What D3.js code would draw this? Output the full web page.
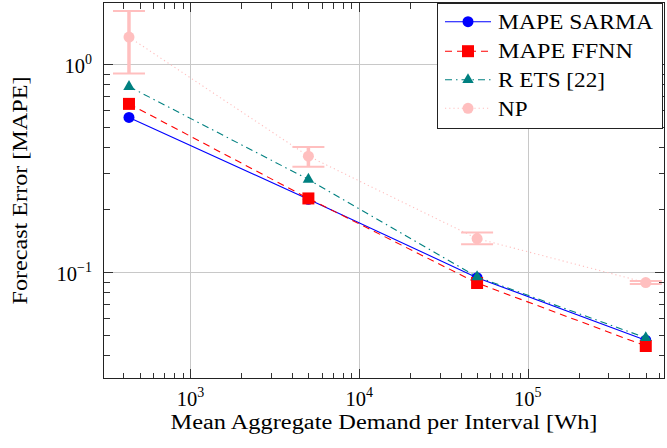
<!DOCTYPE html>
<html><head><meta charset="utf-8">
<script src="https://cdn.jsdelivr.net/npm/d3@7"></script>
<style>
body{margin:0;background:#fff}
svg{display:block}
text{font-family:"Liberation Serif","Times New Roman",serif;fill:#000}
</style>
</head><body>
<svg id="chart" width="667" height="448"></svg>
<script>
// ---- data ----
const demand   = [432, 5000, 50000, 500000];
const sarma    = [0.554, 0.224, 0.094, 0.047];
const ffnn     = [0.644, 0.226, 0.0886, 0.0441];
const ets      = [0.78, 0.279, 0.0948, 0.0483];
const npMean   = [1.35, 0.361, 0.145, 0.089];
const npLow    = [0.902, 0.321, 0.136, 0.0876];
const npHigh   = [1.80, 0.400, 0.155, 0.0905];
const seriesNames = ["MAPE SARMA", "MAPE FFNN", "R ETS [22]", "NP"];
const xTicks   = [1e3, 1e4, 1e5];
const xTickExp = ["3", "4", "5"];
const yTicks   = [1, 0.1];
const yTickExp = ["0", "\u22121"];
const xDomain  = [303, 650000];
const yDomain  = [0.0306, 1.99];
const xLabel = "Mean Aggregate Demand per Interval [Wh]";
const yLabel = "Forecast Error [MAPE]";

// ---- layout ----
const L = 103, R = 665, T = 2, B = 379;
const svg = d3.select("#chart");
const x = d3.scaleLog().domain(xDomain).range([L, R]);
const y = d3.scaleLog().domain(yDomain).range([B, T]);

function minorTicks(domain) {
  const out = [];
  const lo = Math.floor(Math.log10(domain[0])), hi = Math.ceil(Math.log10(domain[1]));
  for (let e = lo; e <= hi; e++) for (let m = 2; m <= 9; m++) {
    const v = m * Math.pow(10, e);
    if (v > domain[0] && v < domain[1]) out.push(v);
  }
  return out;
}
const xMinor = minorTicks(xDomain), yMinor = minorTicks(yDomain);

// grid
const g = svg.append("g").attr("shape-rendering", "crispEdges");
g.selectAll(".gx").data(xTicks).join("line")
  .attr("x1", d => Math.round(x(d)) + 0.5).attr("x2", d => Math.round(x(d)) + 0.5)
  .attr("y1", T).attr("y2", B).attr("stroke", "#c8c8c8").attr("stroke-width", 1);
g.selectAll(".gy").data(yTicks).join("line")
  .attr("y1", d => Math.round(y(d)) + 0.5).attr("y2", d => Math.round(y(d)) + 0.5)
  .attr("x1", L).attr("x2", R).attr("stroke", "#c8c8c8").attr("stroke-width", 1);

// ticks (inside, all four sides)
const tk = svg.append("g").attr("stroke", "#333").attr("stroke-width", 1).attr("shape-rendering", "crispEdges");
const xt = xTicks.map(v => ({v, len: 10})).concat(xMinor.map(v => ({v, len: 6.5})));
const yt = yTicks.map(v => ({v, len: 10})).concat(yMinor.map(v => ({v, len: 6.5})));
xt.forEach(d => {
  const px = Math.round(x(d.v)) + 0.5;
  tk.append("line").attr("x1", px).attr("x2", px).attr("y1", B).attr("y2", B - d.len);
  tk.append("line").attr("x1", px).attr("x2", px).attr("y1", T).attr("y2", T + d.len);
});
yt.forEach(d => {
  const py = Math.round(y(d.v)) + 0.5;
  tk.append("line").attr("y1", py).attr("y2", py).attr("x1", L).attr("x2", L + d.len);
  tk.append("line").attr("y1", py).attr("y2", py).attr("x1", R).attr("x2", R - d.len);
});

// series
const line = d3.line().x(d => x(d[0])).y(d => y(d[1]));
function pts(vals) { return demand.map((d, i) => [d, vals[i]]); }

const series = [
  {vals: sarma, color: "#0000ff", dash: null, mark: "circle"},
  {vals: ffnn, color: "#ff0000", dash: "7,5", mark: "square"},
  {vals: ets, color: "#008080", dash: "7,4,1.5,4", mark: "triangle"},
  {vals: npMean, color: "#ffbfbf", dash: "1.2,3", mark: "circle"}
];

function drawMark(sel, type, color, cx, cy) {
  if (type === "circle") sel.append("circle").attr("cx", cx).attr("cy", cy).attr("r", 5.5).attr("fill", color);
  else if (type === "square") sel.append("rect").attr("x", cx - 6).attr("y", cy - 6).attr("width", 12).attr("height", 12).attr("fill", color);
  else {
    const r = 6.6;
    sel.append("path").attr("d", `M${cx},${cy - r}L${cx + r * 0.866},${cy + r / 2}L${cx - r * 0.866},${cy + r / 2}Z`).attr("fill", color);
  }
}

const dg = svg.append("g");
series.forEach((s, si) => {
  const p = pts(s.vals);
  if (si === 3) {
    // error bars
    demand.forEach((d, i) => {
      const cx = x(d);
      dg.append("line").attr("x1", cx).attr("x2", cx).attr("y1", y(npLow[i])).attr("y2", y(npHigh[i]))
        .attr("stroke", s.color).attr("stroke-width", 3.5);
      [npLow[i], npHigh[i]].forEach(v => {
        dg.append("line").attr("x1", cx - 16).attr("x2", cx + 16).attr("y1", y(v)).attr("y2", y(v))
          .attr("stroke", s.color).attr("stroke-width", 2);
      });
    });
  }
  dg.append("path").datum(p).attr("d", line).attr("fill", "none")
    .attr("stroke", s.color).attr("stroke-width", 1.1)
    .attr("stroke-dasharray", s.dash);
  p.forEach(d => drawMark(dg, s.mark, s.color, x(d[0]), y(d[1])));
});

// frame
svg.append("rect").attr("x", L + 0.5).attr("y", T + 0.5).attr("width", R - L - 1).attr("height", B - T - 1)
  .attr("fill", "none").attr("stroke", "#222").attr("stroke-width", 1).attr("shape-rendering", "crispEdges");

// tick labels
const FS = 20.5;
xTicks.forEach((v, i) => {
  const t = svg.append("text").attr("x", x(v)).attr("y", 406).attr("text-anchor", "middle").attr("font-size", FS);
  t.append("tspan").text("10");
  t.append("tspan").attr("dy", -9).attr("font-size", 14).text(xTickExp[i]);
});
yTicks.forEach((v, i) => {
  const t = svg.append("text").attr("x", 92).attr("y", y(v) + 9).attr("text-anchor", "end").attr("font-size", FS);
  t.append("tspan").text("10");
  t.append("tspan").attr("dy", -9).attr("font-size", 14).text(yTickExp[i]);
});

// axis labels
svg.append("text").attr("x", (L + R) / 2).attr("y", 429).attr("text-anchor", "middle")
  .attr("font-size", FS).attr("textLength", 427).attr("lengthAdjust", "spacingAndGlyphs").text(xLabel);
svg.append("text").attr("transform", `translate(27,${(T + B) / 2}) rotate(-90)`).attr("text-anchor", "middle")
  .attr("font-size", FS).attr("textLength", 228).attr("lengthAdjust", "spacingAndGlyphs").text(yLabel);

// legend
const lg = svg.append("g");
lg.append("rect").attr("x", 437.5).attr("y", 3.5).attr("width", 225).attr("height", 125)
  .attr("fill", "#fff").attr("stroke", "#222").attr("stroke-width", 1).attr("shape-rendering", "crispEdges");
const legendW = [155, 135, 107, 29.5];
const rowY = [21.7, 51.2, 79.8, 108.3];
series.forEach((s, i) => {
  const cy = rowY[i];
  lg.append("line").attr("x1", 445).attr("x2", 491).attr("y1", cy).attr("y2", cy)
    .attr("stroke", s.color).attr("stroke-width", 1.1).attr("stroke-dasharray", s.dash);
  drawMark(lg, s.mark, s.color, 468, cy);
  lg.append("text").attr("x", 498).attr("y", cy + 7.2).attr("font-size", FS)
    .attr("textLength", legendW[i]).attr("lengthAdjust", "spacingAndGlyphs").text(seriesNames[i]);
});
</script>
</body></html>
